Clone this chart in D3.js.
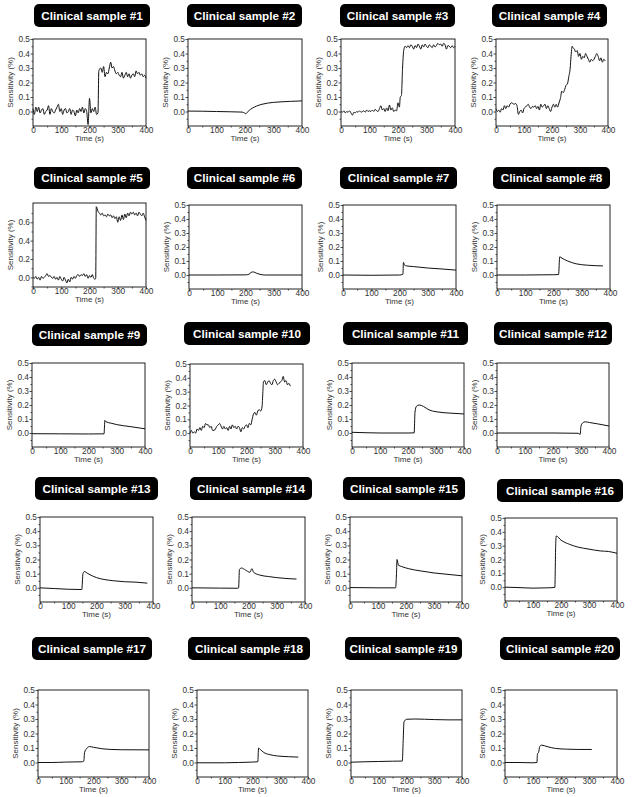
<!DOCTYPE html>
<html><head><meta charset="utf-8">
<script src="https://cdn.jsdelivr.net/npm/d3@7"></script>
<style>
html,body{margin:0;padding:0;background:#fff;}
svg{display:block;}
text{font-family:"Liberation Sans",Arial,sans-serif;}
</style></head>
<body><svg id="c" width="641" height="797"></svg>
<script>
// ---------- DATA ----------
const titles = ["Clinical sample #1","Clinical sample #2","Clinical sample #3","Clinical sample #4",
"Clinical sample #5","Clinical sample #6","Clinical sample #7","Clinical sample #8",
"Clinical sample #9","Clinical sample #10","Clinical sample #11","Clinical sample #12",
"Clinical sample #13","Clinical sample #14","Clinical sample #15","Clinical sample #16",
"Clinical sample #17","Clinical sample #18","Clinical sample #19","Clinical sample #20"];

const xTickValues = [0,100,200,300,400];
const xMinorValues = [50,150,250,350];
const yTickValues = [0,0.1,0.2,0.3,0.4,0.5];
const yMinorValues = [-0.05,0.05,0.15,0.25,0.35,0.45];
const yTickValues5 = [0,0.2,0.4,0.6];
const yMinorValues5 = [-0.1,0.1,0.3,0.5,0.7];
const xLabel = "Time (s)";
const yLabel = "Sensitivity (%)";

const s1 = [[0,0.02],[5,-0.02],[10,0.03],[15,0.0],[20,0.03],[25,-0.01],[30,0.01],[35,0.02],[40,-0.02],[45,0.0],[50,0.01],[55,0.04],[60,-0.02],[65,0.02],[70,0.0],[75,-0.01],[80,0.01],[85,0.03],[90,0.05],[95,0.0],[100,0.02],[105,-0.02],[110,0.01],[115,0.02],[120,-0.01],[125,0.0],[130,0.02],[135,-0.02],[140,0.01],[145,0.0],[150,-0.03],[155,0.01],[160,-0.01],[165,0.02],[170,0.0],[175,0.03],[180,-0.01],[185,0.02],[190,0.0],[195,-0.09],[200,0.09],[205,-0.01],[210,0.02],[215,0.0],[220,0.03],[225,-0.02],[230,-0.01],[233,0.28],[240,0.3],[245,0.27],[250,0.31],[255,0.24],[260,0.27],[265,0.26],[270,0.3],[275,0.34],[280,0.3],[285,0.31],[290,0.28],[295,0.26],[300,0.27],[305,0.25],[310,0.24],[315,0.27],[320,0.23],[325,0.25],[330,0.27],[335,0.24],[340,0.26],[345,0.23],[350,0.25],[355,0.26],[360,0.24],[365,0.28],[370,0.26],[375,0.27],[380,0.25],[385,0.26],[390,0.24],[395,0.25],[400,0.23]];
const s2 = [[0,0.003],[50,0.002],[100,0.0],[150,-0.002],[190,-0.004],[198,-0.01],[203,-0.016],[208,-0.005],[215,0.008],[225,0.022],[240,0.037],[260,0.05],[280,0.058],[300,0.063],[330,0.067],[360,0.07],[400,0.073]];
const s3 = [[0,0.0],[5,-0.005],[10,0.005],[15,-0.01],[20,0.0],[25,-0.005],[30,0.005],[35,-0.01],[40,-0.025],[45,-0.005],[50,-0.01],[55,0.0],[60,-0.005],[65,0.005],[70,-0.005],[75,0.0],[80,0.005],[85,-0.005],[90,0.01],[95,0.0],[100,0.005],[105,0.0],[110,0.01],[115,0.0],[120,0.015],[125,0.005],[130,0.0],[135,0.02],[140,0.04],[145,0.01],[150,0.02],[155,0.0],[160,0.025],[165,0.005],[170,0.045],[175,0.01],[180,0.025],[185,0.0],[190,0.01],[195,0.005],[200,0.06],[205,0.03],[208,0.1],[212,0.11],[216,0.3],[220,0.42],[225,0.45],[230,0.44],[235,0.455],[240,0.44],[245,0.46],[250,0.45],[255,0.43],[260,0.455],[265,0.44],[270,0.465],[275,0.45],[280,0.43],[285,0.46],[290,0.445],[295,0.465],[300,0.45],[305,0.44],[310,0.46],[315,0.45],[320,0.44],[325,0.46],[330,0.445],[335,0.455],[340,0.47],[345,0.46],[350,0.465],[355,0.45],[360,0.47],[365,0.46],[370,0.43],[375,0.455],[380,0.45],[385,0.44],[390,0.455],[395,0.44],[400,0.45]];
const s4 = [[0,0.02],[5,0.0],[10,0.01],[15,-0.005],[20,0.02],[25,0.01],[30,0.04],[35,0.02],[40,0.04],[45,0.03],[50,0.05],[55,0.06],[60,0.055],[65,0.05],[70,0.055],[75,0.04],[80,-0.02],[85,0.0],[90,0.01],[95,-0.01],[100,0.02],[105,0.03],[110,0.04],[115,0.05],[120,0.03],[125,0.02],[130,0.035],[135,0.03],[140,0.04],[145,0.02],[150,0.035],[155,0.01],[160,0.05],[165,0.03],[170,0.04],[175,0.05],[180,0.02],[185,0.04],[190,0.02],[195,0.0],[200,0.03],[205,0.05],[210,0.03],[215,0.05],[220,0.03],[225,0.06],[230,0.09],[235,0.14],[240,0.13],[245,0.15],[250,0.18],[255,0.19],[260,0.24],[265,0.3],[268,0.38],[272,0.45],[275,0.44],[280,0.43],[285,0.41],[290,0.42],[295,0.38],[300,0.4],[305,0.36],[310,0.38],[315,0.37],[320,0.4],[325,0.38],[330,0.36],[335,0.34],[340,0.36],[345,0.35],[350,0.36],[355,0.38],[360,0.4],[365,0.38],[370,0.35],[375,0.37],[380,0.34],[385,0.36],[390,0.35]];
const s5 = [[0,0.0],[5,-0.01],[10,0.01],[15,-0.02],[20,0.0],[25,-0.03],[30,0.01],[35,-0.01],[40,0.0],[45,0.02],[50,0.04],[55,0.01],[60,0.02],[65,0.0],[70,-0.01],[75,0.01],[80,-0.02],[85,0.0],[90,-0.03],[95,0.01],[100,-0.02],[105,-0.04],[110,0.0],[115,-0.03],[120,-0.06],[125,-0.02],[130,-0.05],[135,0.0],[140,-0.02],[145,0.01],[150,-0.01],[155,0.02],[160,0.03],[165,0.01],[170,0.03],[175,0.02],[180,0.04],[185,0.01],[190,0.03],[195,-0.01],[200,0.02],[205,0.0],[210,0.03],[215,-0.01],[220,-0.02],[222,-0.01],[224,0.77],[230,0.72],[235,0.7],[240,0.68],[245,0.7],[250,0.67],[255,0.68],[260,0.66],[265,0.69],[270,0.67],[275,0.68],[280,0.65],[285,0.67],[290,0.64],[295,0.66],[300,0.6],[305,0.66],[310,0.62],[315,0.68],[320,0.63],[325,0.69],[330,0.65],[335,0.7],[340,0.67],[345,0.71],[350,0.69],[355,0.71],[360,0.68],[365,0.7],[370,0.67],[375,0.71],[380,0.69],[385,0.67],[390,0.7],[395,0.66],[400,0.62]];
const s6 = [[0,0.0],[100,0.0],[200,0.001],[212,0.005],[220,0.019],[228,0.022],[240,0.012],[255,0.003],[270,0.0],[400,0.0]];
const s7 = [[0,0.0],[100,-0.002],[200,0.0],[212,0.005],[214,0.09],[218,0.07],[225,0.065],[250,0.06],[300,0.05],[350,0.043],[400,0.035]];
const s8 = [[0,0.0],[100,0.0],[200,0.002],[218,0.003],[222,0.13],[230,0.12],[250,0.1],[280,0.08],[320,0.07],[375,0.065]];
const s9 = [[0,-0.005],[100,-0.006],[200,-0.007],[255,-0.006],[258,0.09],[262,0.08],[280,0.07],[300,0.06],[350,0.045],[400,0.03]];
const s10 = [[0,0.0],[5,0.02],[10,0.0],[15,0.01],[20,0.0],[25,0.03],[30,0.02],[35,0.04],[40,0.02],[45,0.05],[50,0.04],[55,0.07],[60,0.06],[65,0.06],[70,0.04],[75,0.05],[80,0.02],[85,0.02],[90,0.03],[95,0.05],[100,0.06],[105,0.07],[110,0.05],[115,0.03],[120,0.05],[125,0.03],[130,0.04],[135,0.02],[140,0.05],[145,0.03],[150,0.06],[155,0.04],[160,0.05],[165,0.03],[170,0.05],[175,0.04],[180,0.01],[185,0.04],[190,0.03],[195,0.05],[200,0.06],[205,0.04],[210,0.07],[215,0.06],[220,0.1],[225,0.14],[230,0.15],[235,0.13],[240,0.16],[245,0.17],[250,0.16],[255,0.19],[258,0.3],[260,0.37],[265,0.38],[270,0.35],[275,0.37],[280,0.38],[285,0.36],[290,0.35],[295,0.38],[300,0.39],[305,0.37],[310,0.35],[315,0.36],[320,0.37],[325,0.38],[330,0.41],[335,0.37],[340,0.38],[345,0.35],[350,0.36],[355,0.34]];
const s11 = [[0,0.005],[50,0.002],[100,0.0],[200,0.0],[222,0.001],[225,0.15],[230,0.19],[240,0.2],[255,0.19],[275,0.165],[300,0.152],[350,0.142],[400,0.136]];
const s12 = [[0,0.0],[100,0.0],[200,0.0],[290,-0.002],[297,-0.01],[300,0.05],[305,0.07],[315,0.08],[330,0.075],[360,0.065],[400,0.05]];
const s13 = [[0,0.0],[50,-0.005],[100,-0.01],[148,-0.012],[152,0.1],[157,0.115],[170,0.1],[200,0.072],[230,0.058],[260,0.05],[300,0.043],[340,0.04],[380,0.033]];
const s14 = [[0,0.0],[100,-0.002],[160,-0.003],[165,0.0],[168,0.13],[175,0.14],[190,0.125],[205,0.11],[212,0.135],[218,0.11],[240,0.09],[270,0.08],[300,0.072],[340,0.065],[370,0.062]];
const s15 = [[0,0.002],[100,0.0],[163,0.0],[166,0.1],[168,0.2],[173,0.16],[185,0.15],[210,0.135],[250,0.12],[300,0.105],[350,0.095],[400,0.085]];
const s16 = [[0,0.0],[50,-0.003],[100,-0.007],[150,-0.005],[178,-0.002],[181,0.3],[183,0.37],[200,0.34],[230,0.31],[260,0.29],[300,0.275],[340,0.262],[370,0.258],[385,0.252],[400,0.245]];
const s17 = [[0,0.0],[50,0.0],[100,0.003],[160,0.005],[165,0.01],[168,0.07],[175,0.095],[185,0.11],[200,0.105],[230,0.095],[260,0.09],[300,0.088],[400,0.087]];
const s18 = [[0,-0.002],[100,-0.002],[150,0.0],[200,0.003],[219,0.005],[222,0.1],[228,0.09],[240,0.07],[260,0.055],[290,0.045],[330,0.04],[365,0.037]];
const s19 = [[0,0.002],[50,0.005],[100,0.007],[150,0.009],[185,0.01],[188,0.15],[191,0.28],[200,0.298],[230,0.3],[300,0.296],[350,0.294],[400,0.294]];
const s20 = [[0,0.0],[50,0.0],[100,-0.002],[114,0.0],[116,0.06],[120,0.07],[124,0.11],[130,0.12],[150,0.11],[180,0.097],[220,0.092],[260,0.09],[310,0.09]];
const series = [s1,s2,s3,s4,s5,s6,s7,s8,s9,s10,s11,s12,s13,s14,s15,s16,s17,s18,s19,s20];
const yDomainDefault = [-0.1, 0.5];
const yDomain5 = [-0.105, 0.81];

// ---------- LAYOUT (pixels) ----------
// plot frame: [left, right, top, bottom]
const frames = [
 [33,146,39,126],[188,302,39,126],[341,455,39,126],[496,608,39,126],
 [33,146,203,287],[189,302,205,289],[343,456,205,289],[497,610,205,289],
 [32,145,363,447],[190,303,364,447],[352,464,363,447],[497,609,363,447],
 [40,153,517,602],[192,305,517,602],[350,462,517,602],[505,617,518,601],
 [38,149,690,777],[197,308,690,777],[351,462,690,777],[505,617,690,777]
];
// title box: [left, right, top, bottom]
const tboxes = [
 [34,150,4,27],[187,302,4,27],[340,455,4,27],[492,607,4,27],
 [34,150,167,189],[187,302,167,189],[340,457,167,189],[493,610,167,189],
 [32,147,324,346],[184,310,322,345],[343,468,322,345],[494,612,322,345],
 [35,158,477,500],[190,312,477,500],[343,465,477,500],[497,623,479,502],
 [32,152,637,660],[188,310,637,660],[345,462,637,660],[500,620,637,660]
];

const svg = d3.select("#c");
const txtCol = "#333";

series.forEach((data, i) => {
  const [l, r, t, b] = frames[i];
  const is5 = (i === 4);
  const x = d3.scaleLinear().domain([0, 400]).range([l, r]);
  const y = d3.scaleLinear().domain(is5 ? yDomain5 : yDomainDefault).range([b, t]);
  const g = svg.append("g");

  // title box
  const [tl, tr, tt, tb] = tboxes[i];
  g.append("rect").attr("x", tl).attr("y", tt).attr("width", tr - tl).attr("height", tb - tt)
    .attr("rx", 5).attr("ry", 5).attr("fill", "#000");
  g.append("text").attr("x", (tl + tr) / 2).attr("y", (tt + tb) / 2 + 4.2)
    .attr("text-anchor", "middle").attr("fill", "#fff")
    .attr("font-weight", "bold").attr("font-size", 11.7).text(titles[i]);

  // axes
  const ax = g.append("g").attr("transform", `translate(0,${b})`)
    .call(d3.axisBottom(x).tickValues(xTickValues).tickSize(2.5).tickPadding(-1).tickFormat(d3.format("d")));
  const axm = g.append("g").attr("transform", `translate(0,${b})`)
    .call(d3.axisBottom(x).tickValues(xMinorValues).tickSize(1.5).tickFormat(""));
  const ay = g.append("g").attr("transform", `translate(${l},0)`)
    .call(d3.axisLeft(y).tickValues(is5 ? yTickValues5 : yTickValues).tickSize(2.5).tickPadding(0.5).tickFormat(d3.format(".1f")));
  const aym = g.append("g").attr("transform", `translate(${l},0)`)
    .call(d3.axisLeft(y).tickValues(is5 ? yMinorValues5 : yMinorValues).tickSize(1.5).tickFormat(""));
  [ax, axm, ay, aym].forEach(a => {
    a.select(".domain").remove();
    a.selectAll("line").attr("stroke", "#222").attr("stroke-width", 0.8);
    a.selectAll("text").attr("font-size", 8.3).attr("fill", txtCol)
      .style("font-family", "'Liberation Sans', Arial, sans-serif");
  });

  // frame
  g.append("rect").attr("x", l).attr("y", t).attr("width", r - l).attr("height", b - t)
    .attr("fill", "none").attr("stroke", "#222").attr("stroke-width", 1);

  // axis titles
  g.append("text").attr("x", (l + r) / 2).attr("y", b + 15).attr("text-anchor", "middle")
    .attr("font-size", 8).attr("fill", txtCol).text(xLabel);
  g.append("text").attr("transform", `translate(${l - 20},${(t + b) / 2}) rotate(-90)`)
    .attr("text-anchor", "middle").attr("font-size", 8).attr("fill", txtCol).text(yLabel);

  // data line
  const line = d3.line().x(d => x(d[0])).y(d => y(d[1])).curve(d3.curveMonotoneX);
  g.append("path").datum(data).attr("d", line).attr("fill", "none")
    .attr("stroke", "#111").attr("stroke-width", 1).attr("stroke-linejoin", "round");
});
</script>
</body></html>
